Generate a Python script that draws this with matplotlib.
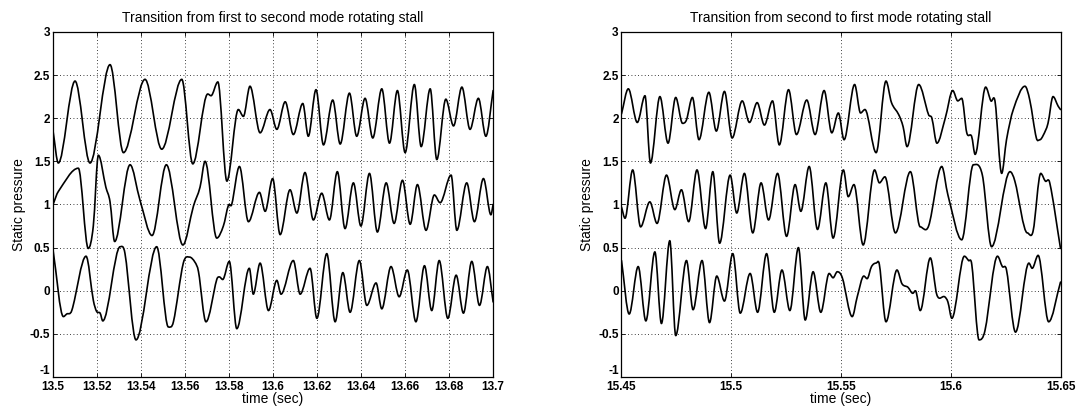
import matplotlib
matplotlib.use("Agg")
import matplotlib.pyplot as plt
from matplotlib.path import Path
from matplotlib.patches import PathPatch

plt.rcParams['font.family'] = ['Liberation Sans', 'DejaVu Sans']

# ---- left panel: first -> second mode (times in s, static pressure) ----
left_top_t = [13.5000, 13.5024, 13.5100, 13.5168, 13.5259, 13.5320, 13.5418, 13.5494,
              13.5585, 13.5635, 13.5703, 13.5718, 13.5749, 13.5790, 13.5842, 13.5865,
              13.5895, 13.5941, 13.5986, 13.6017, 13.6055, 13.6092, 13.6135, 13.6160,
              13.6195, 13.6229, 13.6271, 13.6305, 13.6347, 13.6380, 13.6418, 13.6453,
              13.6494, 13.6529, 13.6565, 13.6600, 13.6642, 13.6673, 13.6714, 13.6744,
              13.6785, 13.6820, 13.6858, 13.6895, 13.6933, 13.6967, 13.7000]
left_top_v = [1.85, 1.48, 2.43, 1.48, 2.62, 1.60, 2.45, 1.64,
              2.45, 1.47, 2.28, 2.26, 2.42, 1.27, 2.10, 2.02,
              2.37, 1.83, 2.10, 1.87, 2.19, 1.81, 2.17, 1.79,
              2.33, 1.69, 2.21, 1.70, 2.29, 1.79, 2.23, 1.77,
              2.34, 1.71, 2.32, 1.60, 2.39, 1.67, 2.34, 1.52,
              2.22, 1.91, 2.36, 1.87, 2.23, 1.79, 2.32]

left_mid_t = [13.5000, 13.5024, 13.5115, 13.5160, 13.5183, 13.5206, 13.5240, 13.5259,
              13.5280, 13.5350, 13.5395, 13.5450, 13.5515, 13.5590, 13.5638, 13.5668,
              13.5691, 13.5744, 13.5774, 13.5797, 13.5812, 13.5847, 13.5888, 13.5938,
              13.5964, 13.5998, 13.6032, 13.6077, 13.6108, 13.6145, 13.6183, 13.6221,
              13.6256, 13.6292, 13.6327, 13.6365, 13.6399, 13.6438, 13.6474, 13.6514,
              13.6550, 13.6588, 13.6623, 13.6656, 13.6695, 13.6733, 13.6759, 13.6809,
              13.6835, 13.6880, 13.6915, 13.6956, 13.6990, 13.7000]
left_mid_v = [1.00, 1.15, 1.42, 0.49, 0.75, 1.57, 1.20, 1.03,
              0.57, 1.46, 1.05, 0.64, 1.46, 0.53, 0.98, 1.20,
              1.50, 0.61, 0.75, 0.99, 1.00, 1.44, 0.80, 1.14,
              0.92, 1.30, 0.65, 1.17, 0.90, 1.37, 0.82, 1.13,
              0.82, 1.38, 0.72, 1.25, 0.75, 1.36, 0.68, 1.25,
              0.78, 1.28, 0.77, 1.23, 0.70, 1.11, 1.02, 1.34,
              0.70, 1.25, 0.80, 1.30, 0.88, 1.00]

left_bot_t = [13.5000, 13.5047, 13.5062, 13.5085, 13.5150, 13.5183, 13.5198, 13.5214,
              13.5226, 13.5305, 13.5327, 13.5377, 13.5471, 13.5524, 13.5547, 13.5592,
              13.5620, 13.5645, 13.5661, 13.5695, 13.5744, 13.5756, 13.5771, 13.5801,
              13.5835, 13.5892, 13.5910, 13.5941, 13.5979, 13.6017, 13.6036, 13.6092,
              13.6123, 13.6168, 13.6199, 13.6244, 13.6282, 13.6317, 13.6350, 13.6392,
              13.6426, 13.6468, 13.6494, 13.6536, 13.6573, 13.6610, 13.6649, 13.6688,
              13.6721, 13.6755, 13.6794, 13.6832, 13.6865, 13.6903, 13.6938, 13.6974,
              13.7000]
left_bot_v = [0.47, -0.30, -0.27, -0.23, 0.40, -0.11, -0.24, -0.26,
              -0.35, 0.51, 0.43, -0.57, 0.51, -0.42, -0.36, 0.32,
              0.39, 0.33, 0.22, -0.36, 0.13, 0.16, 0.13, 0.34,
              -0.44, 0.26, -0.04, 0.32, -0.23, 0.12, -0.04, 0.35,
              -0.04, 0.26, -0.32, 0.43, -0.36, 0.21, -0.25, 0.35,
              -0.17, 0.09, -0.21, 0.28, -0.07, 0.24, -0.36, 0.29,
              -0.23, 0.35, -0.32, 0.18, -0.26, 0.34, -0.17, 0.28,
              -0.13]

# ---- right panel: second -> first mode ----
right_top_t = [15.4500, 15.4531, 15.4572, 15.4607, 15.4632, 15.4675, 15.4712, 15.4747,
               15.4778, 15.4796, 15.4823, 15.4853, 15.4898, 15.4932, 15.4969, 15.5004,
               15.5050, 15.5083, 15.5118, 15.5151, 15.5188, 15.5219, 15.5261, 15.5297,
               15.5344, 15.5382, 15.5423, 15.5458, 15.5488, 15.5514, 15.5562, 15.5589,
               15.5609, 15.5660, 15.5705, 15.5730, 15.5763, 15.5783, 15.5801, 15.5854,
               15.5899, 15.5914, 15.5937, 15.5975, 15.6009, 15.6032, 15.6050, 15.6073,
               15.6095, 15.6111, 15.6159, 15.6183, 15.6202, 15.6232, 15.6254, 15.6285,
               15.6338, 15.6360, 15.6390, 15.6406, 15.6421, 15.6443, 15.6466, 15.6489,
               15.6500]
right_top_v = [2.05, 2.34, 1.95, 2.26, 1.48, 2.25, 1.71, 2.24,
               1.94, 1.98, 2.24, 1.75, 2.30, 1.85, 2.31, 1.77,
               2.20, 1.95, 2.18, 1.92, 2.20, 1.69, 2.33, 1.81,
               2.21, 1.81, 2.32, 1.83, 2.06, 1.75, 2.39, 2.06,
               2.10, 1.60, 2.43, 2.18, 2.04, 1.90, 1.67, 2.39,
               2.04, 2.00, 1.71, 2.00, 2.32, 2.20, 2.23, 1.83,
               1.79, 1.58, 2.36, 2.20, 2.19, 1.36, 1.75, 2.10,
               2.37, 2.21, 1.77, 1.75, 1.80, 1.94, 2.25, 2.14,
               2.10]

right_mid_t = [15.4500, 15.4516, 15.4551, 15.4587, 15.4629, 15.4662, 15.4705, 15.4743,
               15.4773, 15.4806, 15.4844, 15.4883, 15.4916, 15.4947, 15.4995, 15.5025,
               15.5060, 15.5098, 15.5136, 15.5170, 15.5211, 15.5252, 15.5291, 15.5317,
               15.5355, 15.5393, 15.5431, 15.5464, 15.5511, 15.5533, 15.5559, 15.5601,
               15.5653, 15.5675, 15.5700, 15.5748, 15.5816, 15.5861, 15.5899, 15.5959,
               15.5987, 15.6050, 15.6103, 15.6144, 15.6186, 15.6270, 15.6292, 15.6349,
               15.6375, 15.6410, 15.6431, 15.6451, 15.6500]
right_mid_v = [0.97, 0.84, 1.40, 0.74, 1.03, 0.78, 1.34, 0.94,
               1.17, 0.80, 1.40, 0.72, 1.38, 0.55, 1.34, 0.90,
               1.36, 0.67, 1.25, 0.82, 1.36, 0.63, 1.23, 0.92,
               1.44, 0.71, 1.25, 0.61, 1.40, 1.09, 1.23, 0.53,
               1.40, 1.25, 1.32, 0.67, 1.38, 0.74, 0.75, 1.44,
               1.11, 0.59, 1.46, 1.34, 0.51, 1.38, 1.27, 0.67,
               0.69, 1.36, 1.27, 1.25, 0.49]

right_bot_t = [15.4500, 15.4535, 15.4576, 15.4611, 15.4652, 15.4682, 15.4720, 15.4747,
               15.4796, 15.4826, 15.4867, 15.4901, 15.4934, 15.4969, 15.5007, 15.5041,
               15.5086, 15.5120, 15.5161, 15.5196, 15.5231, 15.5267, 15.5306, 15.5337,
               15.5373, 15.5408, 15.5446, 15.5464, 15.5483, 15.5506, 15.5551, 15.5574,
               15.5604, 15.5619, 15.5639, 15.5660, 15.5675, 15.5705, 15.5755, 15.5778,
               15.5805, 15.5827, 15.5839, 15.5861, 15.5907, 15.5937, 15.5972, 15.5987,
               15.6005, 15.6062, 15.6081, 15.6096, 15.6129, 15.6156, 15.6213, 15.6235,
               15.6254, 15.6295, 15.6356, 15.6371, 15.6398, 15.6446, 15.6500]
right_bot_v = [0.35, -0.27, 0.28, -0.35, 0.45, -0.38, 0.58, -0.52,
               0.35, -0.22, 0.35, -0.37, 0.17, -0.12, 0.43, -0.26,
               0.20, -0.25, 0.43, -0.25, 0.24, -0.23, 0.50, -0.34,
               0.22, -0.25, 0.20, 0.15, 0.22, 0.15, -0.30, -0.07,
               0.17, 0.14, 0.28, 0.32, 0.30, -0.36, 0.24, 0.08,
               0.04, -0.03, 0.00, -0.23, 0.38, -0.05, -0.07, -0.13,
               -0.32, 0.40, 0.35, 0.30, -0.57, -0.46, 0.40, 0.28,
               0.24, -0.48, 0.32, 0.26, 0.41, -0.36, 0.10]

# ---- axes labels / ticks ----
y_ticks = [-1, -0.5, 0, 0.5, 1, 1.5, 2, 2.5, 3]
y_labels = ['-1', '-0.5', '0', '0.5', '1', '1.5', '2', '2.5', '3']
left_xticks = [13.5, 13.52, 13.54, 13.56, 13.58, 13.6, 13.62, 13.64, 13.66, 13.68, 13.7]
left_xlabels = ['13.5', '13.52', '13.54', '13.56', '13.58', '13.6', '13.62', '13.64',
                '13.66', '13.68', '13.7']
right_xticks = [15.45, 15.5, 15.55, 15.6, 15.65]
right_xlabels = ['15.45', '15.5', '15.55', '15.6', '15.65']
left_title = 'Transition from first to second mode rotating stall'
right_title = 'Transition from second to first mode rotating stall'


def smooth_path(t, v):
    """Bezier path through the read points; flat tangent at turning points."""
    n = len(t)
    slopes = []
    for i in range(n):
        if i == 0:
            m = (v[1] - v[0]) / (t[1] - t[0])
        elif i == n - 1:
            m = (v[-1] - v[-2]) / (t[-1] - t[-2])
        elif (v[i] - v[i - 1]) * (v[i + 1] - v[i]) <= 0:
            m = 0.0
        else:
            m = (v[i + 1] - v[i - 1]) / (t[i + 1] - t[i - 1])
        slopes.append(m)
    verts = [(t[0], v[0])]
    codes = [Path.MOVETO]
    for i in range(n - 1):
        h = (t[i + 1] - t[i]) / 3.0
        verts += [(t[i] + h, v[i] + slopes[i] * h),
                  (t[i + 1] - h, v[i + 1] - slopes[i + 1] * h),
                  (t[i + 1], v[i + 1])]
        codes += [Path.CURVE4, Path.CURVE4, Path.CURVE4]
    return Path(verts, codes)


def draw_panel(ax, traces, xticks, xlabels, title):
    for t, v in traces:
        ax.add_patch(PathPatch(smooth_path(t, v), fill=False, edgecolor='black',
                               lw=1.2, joinstyle='round', capstyle='round'))
    ax.set_xlim(xticks[0], xticks[-1])
    ax.set_ylim(-1, 3)
    ax.set_xticks(xticks)
    ax.set_xticklabels(xlabels)
    ax.set_yticks(y_ticks)
    ax.set_yticklabels(y_labels)
    ax.grid(True, color='black', linestyle=(0, (1, 3)), linewidth=0.6)
    ax.tick_params(direction='in', top=True, right=True, length=3,
                   labelsize=8.5, pad=2, width=0.6)
    ax.tick_params(axis='x', pad=3)
    for lab in ax.get_xticklabels() + ax.get_yticklabels():
        lab.set_fontweight('bold')
    # MATLAB puts the lowest y label just above the corner
    ax.get_yticklabels()[0].set_verticalalignment('bottom')
    for s in ax.spines.values():
        s.set_linewidth(0.9)
    ax.set_title(title, fontsize=10, pad=7)
    ax.set_xlabel('time (sec)', fontsize=10, labelpad=-1)
    ax.set_ylabel('Static pressure', fontsize=10, labelpad=3)


fig = plt.figure(figsize=(10.76, 4.07), dpi=100)
ax1 = fig.add_axes([0.0493, 0.0737, 0.409, 0.848])
ax2 = fig.add_axes([0.5776, 0.0737, 0.408, 0.848])

draw_panel(ax1, [(left_top_t, left_top_v), (left_mid_t, left_mid_v), (left_bot_t, left_bot_v)],
           left_xticks, left_xlabels, left_title)
draw_panel(ax2, [(right_top_t, right_top_v), (right_mid_t, right_mid_v), (right_bot_t, right_bot_v)],
           right_xticks, right_xlabels, right_title)

fig.savefig('out.png', dpi=100)
